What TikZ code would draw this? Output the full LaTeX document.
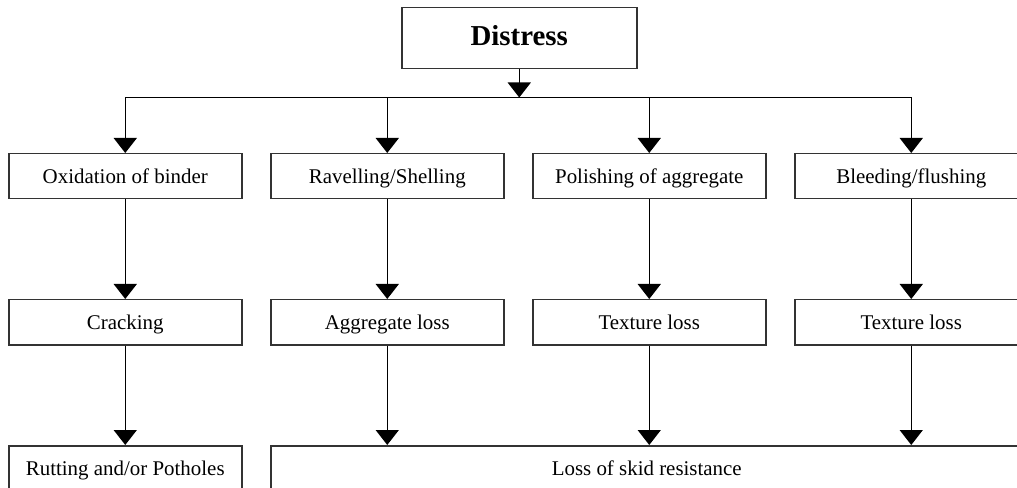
\documentclass[tikz,border=0pt]{standalone}
\usepackage{fontspec}
\setmainfont{Liberation Serif}
\usetikzlibrary{arrows.meta}
\begin{document}
\begin{tikzpicture}[x=1bp,y=-1bp,
  box/.style={draw=black!80, line width=1.5bp, minimum width=233bp,
    minimum height=45bp, inner sep=0pt, anchor=north west,
    text height=16bp, text depth=2bp,
    font=\fontsize{21}{25}\selectfont},
  headbox/.style={box, minimum width=235bp, minimum height=61bp,
    text height=20bp, text depth=5bp,
    font=\fontsize{29}{34}\selectfont\bfseries},
  link/.style={line width=1.5bp, -{Triangle[width=23bp,length=15bp]}},
  bus/.style={line width=1.5bp},
]
\clip (0,0) rectangle (1017,488);
\fill[white] (0,0) rectangle (1017,488);

% heading
\node[headbox] (top) at (401,7) {Distress};

% first row: causes
\node[box] (a1) at (8,153)   {Oxidation of binder};
\node[box] (b1) at (270,153) {Ravelling/Shelling};
\node[box] (c1) at (532,153) {Polishing of aggregate};
\node[box] (d1) at (794,153) {Bleeding/flushing};

% second row
\node[box] (a2) at (8,299)   {Cracking};
\node[box] (b2) at (270,299) {Aggregate loss};
\node[box] (c2) at (532,299) {Texture loss};
\node[box] (d2) at (794,299) {Texture loss};

% third row: consequences
\node[box] (a3) at (8,445) {Rutting and/or Potholes};
\node[box, minimum width=752bp] (loss) at (270,445) {Loss of skid resistance};

% distribution bar below the heading
\path (top.south) ++(0,28) coordinate (hub);
\draw[link] (top.south) -- (hub);
\draw[bus] (a1.north |- hub) -- (d1.north |- hub);
\foreach \n in {a1,b1,c1,d1}
  \draw[link] (\n.north |- hub) -- (\n.north);

% vertical chains
\draw[link] (a1.south) -- (a2.north);
\draw[link] (b1.south) -- (b2.north);
\draw[link] (c1.south) -- (c2.north);
\draw[link] (d1.south) -- (d2.north);
\draw[link] (a2.south) -- (a3.north);
\foreach \n in {b2,c2,d2}
  \draw[link] (\n.south) -- (\n.south |- loss.north);
\end{tikzpicture}
\end{document}
